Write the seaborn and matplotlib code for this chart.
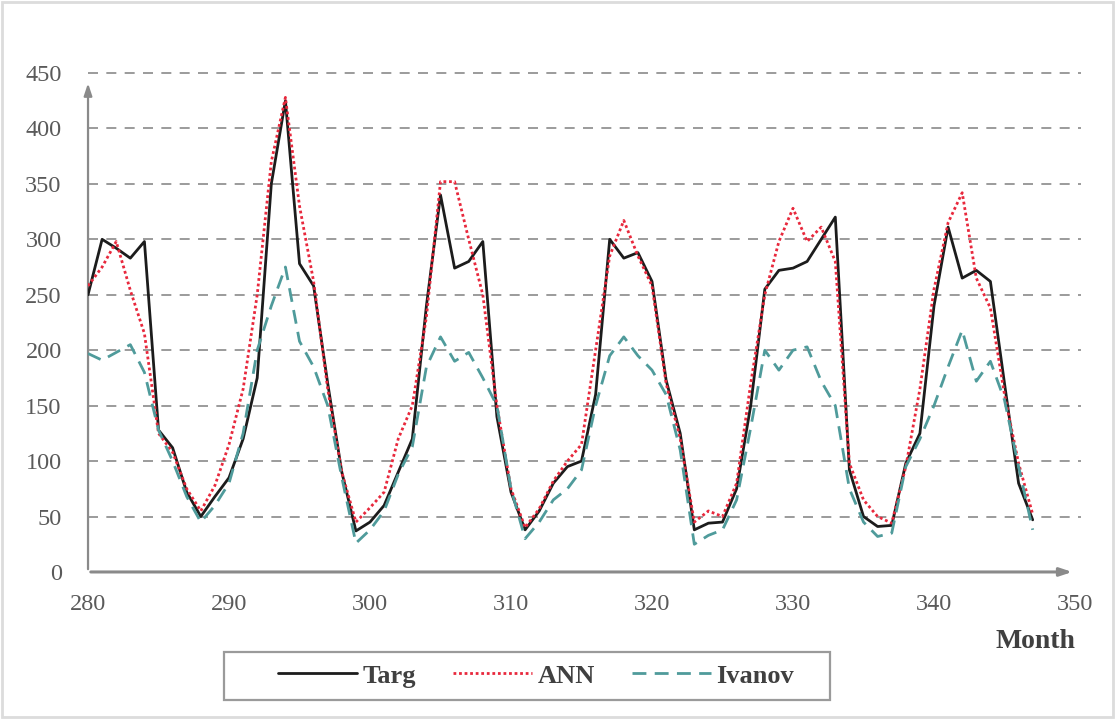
import numpy as np
import pandas as pd
import matplotlib
matplotlib.use("Agg")
import matplotlib.pyplot as plt
import seaborn as sns

# values, one point per month
months = list(range(280, 348))

targ = [250, 300, 292, 283, 298, 128, 112, 72, 50, 68,
        85, 120, 175, 350, 425, 278, 258, 170, 90, 37,
        45, 60, 90, 120, 240, 340, 274, 280, 298, 140,
        72, 38, 55, 80, 95, 100, 160, 300, 283, 288,
        262, 173, 125, 38, 44, 45, 75, 150, 255, 272,
        274, 280, 300, 320, 92, 50, 41, 42, 98, 125,
        240, 311, 265, 272, 262, 170, 80, 47]

ann = [258, 275, 298, 254, 215, 125, 108, 75, 55, 78,
       115, 165, 250, 370, 428, 330, 262, 165, 90, 45,
       58, 72, 120, 150, 230, 352, 352, 300, 250, 150,
       75, 40, 57, 82, 100, 115, 200, 285, 317, 285,
       258, 170, 120, 45, 55, 50, 80, 170, 250, 298,
       328, 298, 311, 280, 98, 65, 50, 44, 95, 165,
       255, 315, 342, 265, 238, 160, 98, 52]

ivanov = [197, 191, 198, 205, 180, 128, 100, 68, 45, 60,
          80, 125, 200, 240, 275, 208, 185, 150, 85, 26,
          38, 55, 88, 113, 185, 212, 190, 198, 175, 150,
          75, 30, 45, 65, 75, 92, 150, 195, 212, 195,
          182, 160, 110, 25, 33, 38, 65, 130, 200, 182,
          200, 203, 172, 150, 75, 45, 32, 35, 95, 120,
          150, 185, 218, 172, 190, 155, 95, 38]

series_names = ["Targ", "ANN", "Ivanov"]
x_ticks = [280, 290, 300, 310, 320, 330, 340, 350]
y_ticks = [0, 50, 100, 150, 200, 250, 300, 350, 400, 450]

df = pd.DataFrame({"Month": months * 3,
                   "value": targ + ann + ivanov,
                   "series": ["Targ"] * len(months) + ["ANN"] * len(months)
                             + ["Ivanov"] * len(months)})

sns.set_theme(style="white")
plt.rcParams["font.family"] = ["Liberation Serif", "DejaVu Serif"]

fig = plt.figure(figsize=(11.17, 7.19), dpi=100)
ax = fig.add_axes([0.0788, 0.2045, 0.8836, 0.694])

colors = {"Targ": "#1c1c1c", "ANN": "#e8283c", "Ivanov": "#4f9b9b"}
dashes = {"Targ": "", "ANN": (1, 1), "Ivanov": (5, 3)}

# grid first so the curves sit on top
for yv in y_ticks[1:]:
    ax.plot([280, 350.4], [yv, yv], color="#8a8a8a", lw=1.2,
            ls=(0, (6, 5)), zorder=0, clip_on=False)

sns.lineplot(data=df, x="Month", y="value", hue="series", style="series",
             palette=colors, dashes=dashes, hue_order=series_names,
             style_order=series_names, linewidth=2, legend=False, ax=ax,
             zorder=3)

ax.set_xlim(280, 350)
ax.set_ylim(0, 450)
ax.set_xticks(x_ticks)
ax.set_yticks(y_ticks)
ax.tick_params(axis="both", length=0, labelsize=17.5, labelcolor="#5a5a5a")
ax.tick_params(axis="y", pad=19)
ax.tick_params(axis="x", pad=16)
ax.set_xlabel("")
ax.set_ylabel("")
for s in ax.spines.values():
    s.set_visible(False)

# axis lines with arrow heads
ax.annotate("", xy=(0, 0.985), xytext=(0, 0), xycoords="axes fraction",
            arrowprops=dict(arrowstyle="-|>,head_length=0.6,head_width=0.2",
                            color="#8a8a8a", lw=1.6), zorder=1)
ax.annotate("", xy=(1.0, 0), xytext=(0, 0), xycoords="axes fraction",
            arrowprops=dict(arrowstyle="-|>,head_length=0.6,head_width=0.2",
                            color="#8a8a8a", lw=2.2), zorder=1)

fig.text(0.927, 0.108, "Month", fontsize=20, fontweight="bold",
         color="#404040", ha="center", va="center")

leg = fig.legend(ax.lines[-3:], series_names, loc="center",
                 bbox_to_anchor=(0.48, 0.06), ncol=3, frameon=False,
                 handlelength=3.0, columnspacing=1.4, handletextpad=0.2,
                 prop={"weight": "bold", "size": 19})
for t in leg.get_texts():
    t.set_color("#404040")

# legend box drawn by hand, wider than the entries
fig.patches.append(plt.Rectangle((224 / 1117, 1 - 700 / 719), 606 / 1117,
                                 48 / 719, transform=fig.transFigure,
                                 fill=False, edgecolor="#9a9a9a", lw=1.6))

# faint border around the whole picture
fig.patches.append(plt.Rectangle((0.002, 0.003), 0.994, 0.994,
                                 transform=fig.transFigure, fill=False,
                                 edgecolor="#dcdcdc", lw=2))

fig.savefig("out.png", dpi=100)
